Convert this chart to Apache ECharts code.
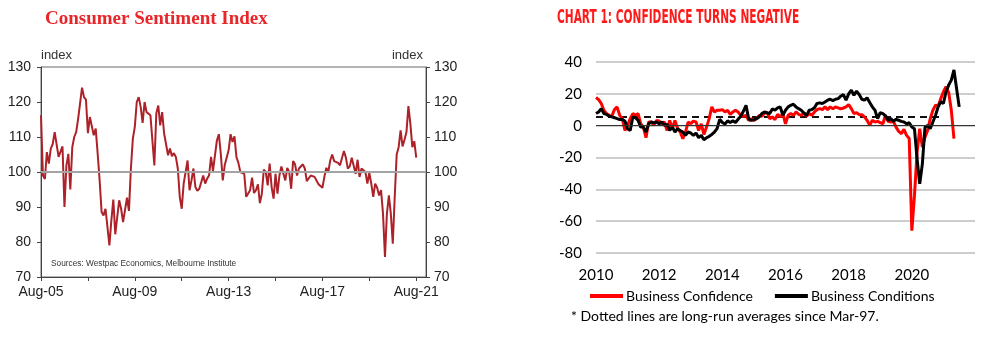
<!DOCTYPE html>
<html>
<head>
<meta charset="utf-8">
<script src="https://cdn.jsdelivr.net/npm/echarts@6/dist/echarts.min.js"></script>
<style>html,body{margin:0;padding:0;background:#fff}#c{width:1003px;height:357px}</style>
</head>
<body>
<div id="c"></div>
<script>
// ---------- Left chart: Consumer Sentiment Index (monthly, Aug-05 .. Aug-21) ----------
const sentimentStart = { year: 2005, month: 7 }; // Aug 2005 (0-based month)
const sentimentExtraMonths = 5; // axis runs a few months past the last observation
const sentimentTickLabels = ['Aug-05', 'Aug-09', 'Aug-13', 'Aug-17', 'Aug-21'];
const sentiment = [
  116.2, 99, 98, 105.7, 102.4, 106.7, 108, 111.4, 111.4, 104.3, 103.8, 107.3,
  90, 101.9, 105.2, 95, 107.1, 110, 111.4, 115.2, 115.5, 124.1, 121.4, 120.7,
  111.1, 115.7, 115.2, 110.5, 112.4, 105.2, 97.6, 88.6, 87.6, 89.5, 84.3, 79,
  86.2, 92.1, 82.2, 87.1, 91.9, 89.5, 85.7, 85.4, 92.7, 88.9, 101, 109.5,
  112.9, 120, 121.4, 118.6, 114, 120, 117.1, 117.1, 116.2, 109, 101.9, 116.7,
  119, 113.3, 117.1, 111, 111, 104.8, 106.7, 104.5, 105.4, 104.3, 101, 92.9,
  89.5, 96.7, 97.1, 103.3, 94.8, 97.6, 101, 95.7, 94.6, 95.2, 95.5, 99,
  96.7, 98.1, 99, 104.3, 100.3, 100.7, 109, 110.8, 105.2, 97.6, 101.9, 102.4,
  106.2, 110.8, 108.6, 110.2, 104.3, 102.6, 100, 99.5, 99.5, 92.9, 93, 94.8,
  98.4, 94, 94.8, 96.5, 91.1, 93.8, 100.7, 100, 96.2, 102.4, 95.7, 92.4,
  99.5, 93.8, 99, 101.6, 101.2, 97.6, 101.2, 100, 95.2, 103.1, 102.2, 99,
  101, 101.2, 102.2, 101, 97.4, 97.6, 99, 99.5, 98.6, 98.1, 96.5, 96.2,
  95.5, 98.6, 101.2, 100, 103.3, 105, 103.1, 103, 102.6, 101.9, 102.4, 106,
  104.1, 101, 101.6, 104.1, 104.3, 99.5, 103.5, 98.6, 101, 100.7, 100, 96.7,
  99.7, 96.7, 92.9, 96.7, 95.5, 93.3, 94.8, 88.1, 75.7, 88.1, 93.3, 88.1,
  79.5, 92.9, 105, 107.1, 111.9, 107.3, 109.2, 111.4, 118.8, 113.8, 107.1, 108.8,
  104.1
];
const sentimentBaseline = 100;

// ---------- Right chart: NAB business survey (monthly from Jan-2010) ----------
const bizStartYear = 2010;
const bizYearTicks = [2010, 2012, 2014, 2016, 2018, 2020];
const businessConfidence = [
  17.7, 16.4, 13.9, 9.7, 7.6, 6.5, 5.9, 10.1, 11.8, 6.5, 4.4, -3,
  0.2, 4.4, 7.6, 6.5, 7.6, 1.2, -0.9, -7.6, 2.3, 2.3, 0.2, 3.3,
  2.9, 1.2, 2.3, -3, 3.3, -1.9, 3.3, -1.9, -4, -8.2, -4, 2.3,
  1.2, 2.9, 2.3, -3, 1.2, -5.5, -0.9, 4.4, 11.8, 8.6, 9.7,
  9.7, 10.1, 8.6, 9.7, 7.1, 8.6, 9.7, 8.6, 6.5, 5.9, 6.5, 3.3,
  4.4, 3.3, 4.4, 6.5, 5.9, 7.6, 8.6, 4.4, 5.5, 3.8, 7.1, 5.5,
  7.6, 1.2, 6.5, 7.6, 6.5, 8.6, 7.1, 6.5, 8, 5.9, 7.6, 6.5,
  8.6, 10.1, 10.7, 10.1, 11.8, 10.1, 11.8, 10.7, 11.8, 11.2, 10.5,
  11.1, 11.8, 13.2, 10.7, 7.6, 8.2, 6.9, 6.9, 5.5, 3.4, 0.2, 3.4,
  2.3, 2.7, 1.9, 1.2, 6.5, 2.7, 2.3, 2.7, -0.9, -3.6, -5, -2.3,
  -6.1, -8, -66, -44, -16.6, -1.9, -13.5, -7.2, -3, 4.4, 9.7, 12.8,
  12.4, 17, 21.3, 24.4, 20.8, 9.7, -8.2
];
const businessConditions = [
  7.6, 8.6, 10.7, 7.6, 7.1, 5.9, 5.5, 5, 4.4, 3.8, 3.8, 2.9,
  -1.9, -3, 5.5, 5, 3.3, -0.9, -0.9, -4, 1.2, 2.3, 1.7, 2.3,
  1.2, 2.3, 0.2, 0.8, -3, -0.9, -4, -1.9, -3, -4, -6.1, -4,
  -4.6, -6.1, -4.6, -7.6, -6.1, -8.8, -7.6, -6.7, -5.5, -4, -1.9,
  4, 2, 1, 3, 2, 3, 2, 4, 6, 9, 12.8, 4.4,
  3.3, 3.8, 4.4, 5.5, 7.6, 8.6, 8, 7.6, 10.5, 9.7, 11.2, 11.8,
  6.5, 9.7, 11.8, 12.8, 13.5, 11.8, 10.7, 9.7, 8, 6.5, 9.7, 10.1,
  11.2, 14, 14.3, 13.9, 14.9, 16, 16.6, 15.7, 16.6, 17, 18.5, 19.5, 16,
  20, 22.3, 19.1, 21.7, 19.6, 16.6, 16, 17.5, 14.5, 11.8, 9.7, 4.4,
  8.2, 7.6, 6.1, 3.4, 4.4, 2.7, 4, 3.4, 2.7, 2.3, 1.2, 1.9,
  -0.9, -2, -21, -36.6, -24, -1, 0.2, -1.9, 2.3, 6.5, 11.8, 15,
  13.9, 21.3, 25.5, 28.6, 35, 23.3, 11.8
];
const longRunAverage = 5.5;
const longRunAverageEnd = 2020.95;

// ---------- build ----------
const monthNames = ['Jan','Feb','Mar','Apr','May','Jun','Jul','Aug','Sep','Oct','Nov','Dec'];
const sentimentCategories = [];
for (let i = 0; i < sentiment.length + sentimentExtraMonths; i++) {
  const t = sentimentStart.month + i;
  const y = sentimentStart.year + Math.floor(t / 12);
  sentimentCategories.push(monthNames[t % 12] + '-' + String(y % 100).padStart(2, '0'));
}
const sentimentData = sentimentCategories.map((c, i) => i < sentiment.length ? sentiment[i] : null);
const toXY = arr => arr.map((v, i) => [bizStartYear + i / 12, v]);

const chart = echarts.init(document.getElementById('c'), null, { renderer: 'canvas' });
const sansL = 'Liberation Sans, Arial, sans-serif';
const sansR = 'Lato, Noto Sans, sans-serif';

chart.setOption({
  animation: false,
  backgroundColor: '#fff',
  title: [
    { text: 'Consumer Sentiment Index', left: 40, top: 5,
      textStyle: { fontFamily: 'Liberation Serif, Times New Roman, serif', fontWeight: 'bold', fontSize: 19, color: '#e8262a' } }
  ],
  grid: [
    { left: 41, right: 577, top: 67, bottom: 80, show: true, borderColor: '#6a6a6a', borderWidth: 1, backgroundColor: 'transparent' },
    { left: 596, right: 28, top: 62, bottom: 104 }
  ],
  legend: {
    data: ['Business Confidence', 'Business Conditions'],
    left: 585, top: 284, icon: 'rect', itemWidth: 33, itemHeight: 4, itemGap: 22,
    textStyle: { fontFamily: sansR, fontSize: 14, color: '#000', padding: [0, 0, 0, -2] }
  },
  graphic: [
    { type: 'text', x: 557, y: 8, scaleX: 0.53, scaleY: 1,
      style: { text: 'CHART 1: CONFIDENCE TURNS NEGATIVE', fontFamily: 'DejaVu Sans, sans-serif', fontWeight: 'bold', fontSize: 20, fill: '#ff1a1a' } },
    { type: 'text', left: 51, top: 260, style: { text: 'Sources: Westpac Economics, Melbourne Institute', fontFamily: sansL, fontSize: 8.3, fill: '#333' } },
    { type: 'text', left: 571, top: 309, style: { text: '* Dotted lines are long-run averages since Mar-97.', fontFamily: sansR, fontSize: 14, fill: '#000' } }
  ],
  xAxis: [
    { type: 'category', gridIndex: 0, data: sentimentCategories, boundaryGap: false,
      axisLine: { lineStyle: { color: '#444' } },
      axisTick: { interval: (i) => i % 24 === 0, length: 4, lineStyle: { color: '#444' } },
      axisLabel: { interval: (i, v) => sentimentTickLabels.includes(v) && i % 48 === 0, fontFamily: sansL, fontSize: 14, color: '#222', margin: 8 },
      splitLine: { show: false } },
    { type: 'value', gridIndex: 1, min: 2010, max: 2022, interval: 2,
      axisLine: { show: false }, axisTick: { show: false },
      axisLabel: { fontFamily: sansR, fontSize: 15, color: '#000', margin: 15,
        formatter: v => bizYearTicks.includes(v) ? String(v) : '' },
      splitLine: { show: false } }
  ],
  yAxis: [
    { type: 'value', gridIndex: 0, min: 70, max: 130, interval: 10, position: 'left',
      name: 'index', nameLocation: 'end', nameGap: 5,
      nameTextStyle: { fontFamily: sansL, fontSize: 13, color: '#333', align: 'left', padding: [0, 0, 0, 0] },
      axisLine: { show: true, lineStyle: { color: '#444' } },
      axisTick: { show: true, length: 4, lineStyle: { color: '#444' } },
      axisLabel: { fontFamily: sansL, fontSize: 14, color: '#222', margin: 10 },
      splitLine: { show: false } },
    { type: 'value', gridIndex: 0, min: 70, max: 130, interval: 10, position: 'right',
      name: 'index', nameLocation: 'end', nameGap: 5,
      nameTextStyle: { fontFamily: sansL, fontSize: 13, color: '#333', align: 'right', padding: [0, 3, 0, 0] },
      axisLine: { show: true, lineStyle: { color: '#444' } },
      axisTick: { show: true, length: 4, lineStyle: { color: '#444' } },
      axisLabel: { fontFamily: sansL, fontSize: 14, color: '#222', margin: 8 },
      splitLine: { show: false } },
    { type: 'value', gridIndex: 1, min: -80, max: 40, interval: 20,
      axisLine: { show: false }, axisTick: { show: false },
      axisLabel: { fontFamily: sansR, fontSize: 15, color: '#000', margin: 14 },
      splitLine: { show: true, lineStyle: { color: '#bdbdbd', width: 1.5 } } }
  ],
  series: [
    { type: 'line', xAxisIndex: 0, yAxisIndex: 0, data: sentimentData, showSymbol: false,
      lineStyle: { color: '#ad2229', width: 2 }, itemStyle: { color: '#ad2229' }, z: 3,
      markLine: { silent: true, symbol: 'none', label: { show: false },
        lineStyle: { color: '#a3a3a3', width: 2, type: 'solid' }, data: [{ yAxis: sentimentBaseline }] } },
    { type: 'line', name: 'avg', xAxisIndex: 1, yAxisIndex: 2,
      data: [[bizStartYear, longRunAverage], [longRunAverageEnd, longRunAverage]],
      showSymbol: false, lineStyle: { color: '#111', width: 2, type: [7, 5] }, z: 2,
      markLine: { silent: true, symbol: 'none', label: { show: false },
        lineStyle: { color: '#333', width: 1.2, type: 'solid' }, data: [{ yAxis: 0 }] } },
    { type: 'line', name: 'Business Confidence', xAxisIndex: 1, yAxisIndex: 2, data: toXY(businessConfidence),
      showSymbol: false, lineStyle: { color: '#ff0000', width: 3 }, itemStyle: { color: '#ff0000' }, z: 3 },
    { type: 'line', name: 'Business Conditions', xAxisIndex: 1, yAxisIndex: 2, data: toXY(businessConditions),
      showSymbol: false, lineStyle: { color: '#000', width: 3 }, itemStyle: { color: '#000' }, z: 4 }
  ]
});
</script>
</body>
</html>
